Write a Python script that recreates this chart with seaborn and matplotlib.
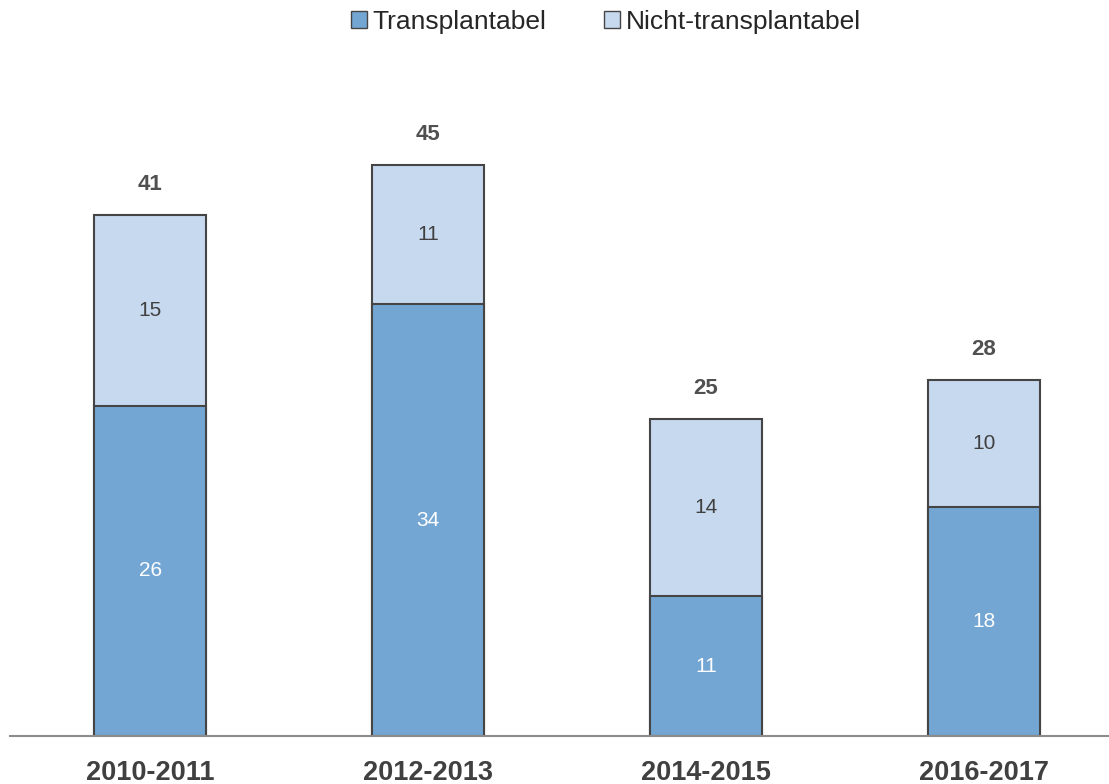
import matplotlib.pyplot as plt
import matplotlib.patches as mpatches
import seaborn as sns
import pandas as pd

periods = ["2010-2011", "2012-2013", "2014-2015", "2016-2017"]
transplantabel = [26, 34, 11, 18]
nicht_transplantabel = [15, 11, 14, 10]
totals = [t + n for t, n in zip(transplantabel, nicht_transplantabel)]

DARK = "#74A6D4"
LIGHT = "#C7D9EF"
EDGE = "#454545"

df = pd.DataFrame({"period": periods, "trans": transplantabel,
                   "nicht": nicht_transplantabel, "total": totals})

sns.set_theme(style="white")
plt.rcParams["font.family"] = ["Liberation Sans", "DejaVu Sans"]

fig = plt.figure(figsize=(11.09, 7.84), dpi=100)
ax = fig.add_axes([10 / 1109, 48 / 784, 1099 / 1109, 635 / 784])

# total height first (light), then the lower segment on top (dark)
sns.barplot(ax=ax, data=df, x="period", y="total", color=LIGHT, saturation=1,
            width=0.4, edgecolor=EDGE, linewidth=1.5)
sns.barplot(ax=ax, data=df, x="period", y="trans", color=DARK, saturation=1,
            width=0.4, edgecolor=EDGE, linewidth=1.5)

for i, (t, n, tot) in enumerate(zip(transplantabel, nicht_transplantabel, totals)):
    ax.text(i, t / 2, str(t), ha="center", va="center", color="white", fontsize=15)
    ax.text(i, t + n / 2, str(n), ha="center", va="center", color="#404040", fontsize=15)
    ax.text(i, tot + 2.4, str(tot), ha="center", va="center", color="#505050",
            fontsize=16, fontweight="bold")

ax.set_xlim(-0.504, 3.45)
ax.set_ylim(0, 50)
ax.set_xlabel("")
ax.set_ylabel("")
ax.set_yticks([])
ax.tick_params(axis="x", length=0, pad=17)
for lbl in ax.get_xticklabels():
    lbl.set_fontweight("bold")
    lbl.set_fontsize(19.5)
    lbl.set_color("#404040")
for s in ["top", "right", "left"]:
    ax.spines[s].set_visible(False)
ax.spines["bottom"].set_color("#8C8C8C")
ax.spines["bottom"].set_linewidth(1.5)

handles = [mpatches.Patch(facecolor=DARK, edgecolor=EDGE, label="Transplantabel"),
           mpatches.Patch(facecolor=LIGHT, edgecolor=EDGE, label="Nicht-transplantabel")]
fig.legend(handles=handles, loc="center", bbox_to_anchor=(606 / 1109, 1 - 22 / 784),
           ncol=2, frameon=False, fontsize=19, handlelength=0.6, handleheight=0.6,
           handletextpad=0.2, columnspacing=2.2)

fig.savefig("out.png", dpi=100)
